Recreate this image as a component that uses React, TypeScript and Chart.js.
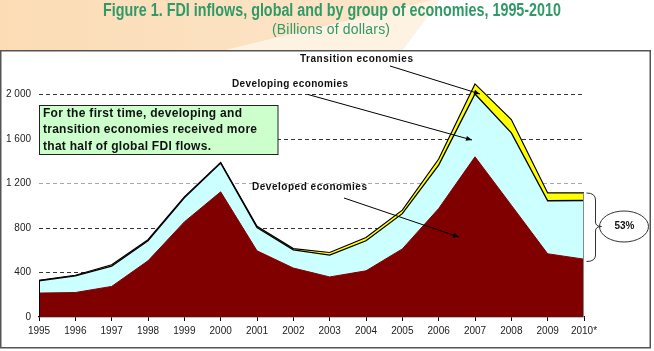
import React, { useEffect, useRef } from 'react';
import { Chart, registerables } from 'chart.js';

Chart.register(...registerables);

const years = ['1995', '1996', '1997', '1998', '1999', '2000', '2001', '2002', '2003', '2004', '2005', '2006', '2007', '2008', '2009', '2010*'];
const developed = [215, 220, 275, 505, 855, 1125, 595, 440, 360, 415, 612, 975, 1440, 1005, 568, 520];
const developing = [111, 149, 183, 180, 216, 258, 210, 164, 196, 270, 317, 390, 565, 650, 477, 527];
const transition = [4, 6, 12, 10, 9, 7, 10, 11, 24, 30, 31, 55, 90, 120, 70, 68];
const yTickValues = [0, 400, 800, 1200, 1600, 2000];

const titleText = 'Figure 1. FDI inflows, global and by group of economies, 1995-2010';
const subtitleText = '(Billions of dollars)';
const noteLines = ['For the first time, developing and', 'transition economies received more', 'that half of global FDI flows.'];
const seriesNames = ['Developed economies', 'Developing economies', 'Transition economies'];
const shareText = '53%';

const FONT = '"Liberation Sans", Arial, sans-serif';
const GREEN = '#2f9a68';

function fitText(ctx: CanvasRenderingContext2D, text: string, x: number, y: number, width: number, font: string, color: string, align: CanvasTextAlign = 'left') {
  ctx.save();
  ctx.font = font;
  (ctx as any).letterSpacing = '0px';
  const w = ctx.measureText(text).width;
  ctx.fillStyle = color;
  ctx.textBaseline = 'middle';
  let startX = x;
  if (align === 'center') startX = x - width / 2;
  ctx.textAlign = 'left';
  if (w <= width) {
    const ls = (width - w) / Math.max(1, text.length - 1);
    (ctx as any).letterSpacing = ls + 'px';
    ctx.fillText(text, startX, y);
  } else {
    ctx.fillText(text, startX, y, width);
  }
  ctx.restore();
}

function arrow(ctx: CanvasRenderingContext2D, x1: number, y1: number, x2: number, y2: number) {
  ctx.save();
  ctx.strokeStyle = '#000';
  ctx.fillStyle = '#000';
  ctx.lineWidth = 1;
  ctx.beginPath();
  ctx.moveTo(x1, y1);
  ctx.lineTo(x2, y2);
  ctx.stroke();
  const a = Math.atan2(y2 - y1, x2 - x1);
  const L = 6, W = 2.5;
  ctx.beginPath();
  ctx.moveTo(x2, y2);
  ctx.lineTo(x2 - L * Math.cos(a) + W * Math.sin(a), y2 - L * Math.sin(a) - W * Math.cos(a));
  ctx.lineTo(x2 - L * Math.cos(a) - W * Math.sin(a), y2 - L * Math.sin(a) + W * Math.cos(a));
  ctx.closePath();
  ctx.fill();
  ctx.restore();
}

const decorPlugin = {
  id: 'decor',
  beforeDraw(chart: any) {
    const ctx: CanvasRenderingContext2D = chart.ctx;
    const W = chart.width, H = chart.height;
    ctx.save();
    ctx.fillStyle = '#ffffff';
    ctx.fillRect(0, 0, W, H);
    const g = ctx.createLinearGradient(0, 0, 430, 0);
    g.addColorStop(0, '#fbdcb5');
    g.addColorStop(1, '#fde6cb');
    ctx.fillStyle = g;
    ctx.beginPath();
    ctx.moveTo(0, 0); ctx.lineTo(434, 0); ctx.lineTo(222, 51); ctx.lineTo(0, 51); ctx.closePath();
    ctx.fill();
    ctx.fillStyle = '#fef2e3';
    ctx.beginPath();
    ctx.moveTo(434, 0); ctx.lineTo(440, 0); ctx.lineTo(402, 51); ctx.lineTo(222, 51); ctx.closePath();
    ctx.fill();
    ctx.fillStyle = '#ffffff';
    ctx.fillRect(1, 51, 649, 297);
    ctx.strokeStyle = '#555';
    ctx.lineWidth = 1.5;
    ctx.strokeRect(0.75, 50.75, 649.5, 297);
    ctx.restore();
    fitText(ctx, titleText, 332, 11.5, 458, 'bold 18px ' + FONT, GREEN, 'center');
    fitText(ctx, subtitleText, 331, 30.5, 118, '14px ' + FONT, GREEN, 'center');
  },
  afterDatasetsDraw(chart: any) {
    const ctx: CanvasRenderingContext2D = chart.ctx;
    const xs = chart.scales.x, ys = chart.scales.y;
    const n = years.length - 1;
    const total0 = developed[0] + developing[0] + transition[0];
    const totalN = developed[n] + developing[n] + transition[n];
    ctx.save();
    ctx.lineWidth = 1;
    ctx.strokeStyle = '#000';
    ctx.beginPath();
    ctx.moveTo(xs.getPixelForValue(0) + 0.5, ys.getPixelForValue(total0));
    ctx.lineTo(xs.getPixelForValue(0) + 0.5, ys.getPixelForValue(0));
    ctx.stroke();
    ctx.strokeStyle = '#888';
    ctx.beginPath();
    ctx.moveTo(xs.getPixelForValue(n) - 0.5, ys.getPixelForValue(totalN));
    ctx.lineTo(xs.getPixelForValue(n) - 0.5, ys.getPixelForValue(0));
    ctx.stroke();
    ctx.restore();
  },
  afterDraw(chart: any) {
    const ctx: CanvasRenderingContext2D = chart.ctx;
    ctx.save();
    ctx.fillStyle = '#ccffcc';
    ctx.strokeStyle = '#222';
    ctx.lineWidth = 1;
    ctx.fillRect(39.5, 105.5, 238.5, 49);
    ctx.strokeRect(39.5, 105.5, 238.5, 49);
    ctx.restore();
    const noteWidths = [199, 214, 168];
    const noteY = [113.5, 130, 146.5];
    noteLines.forEach((t, i) => fitText(ctx, t, 43, noteY[i], noteWidths[i], 'bold 12px ' + FONT, '#111'));

    fitText(ctx, seriesNames[2], 300, 59.5, 113, 'bold 10px ' + FONT, '#111');
    fitText(ctx, seriesNames[1], 232, 84.5, 116, 'bold 10px ' + FONT, '#111');
    fitText(ctx, seriesNames[0], 252, 187, 115, 'bold 10px ' + FONT, '#111');
    arrow(ctx, 390, 66, 480, 94);
    arrow(ctx, 308, 94.5, 472, 140);
    arrow(ctx, 344, 198, 459, 237);

    ctx.save();
    ctx.strokeStyle = '#333';
    ctx.lineWidth = 1;
    ctx.beginPath();
    ctx.moveTo(586.5, 193);
    ctx.quadraticCurveTo(595.5, 193, 595.5, 200);
    ctx.lineTo(595.5, 222);
    ctx.quadraticCurveTo(595.5, 226.5, 601.5, 226.5);
    ctx.quadraticCurveTo(595.5, 226.5, 595.5, 231);
    ctx.lineTo(595.5, 255);
    ctx.quadraticCurveTo(595.5, 261.5, 586.5, 261.5);
    ctx.stroke();
    ctx.beginPath();
    ctx.ellipse(624, 226.5, 24.5, 15.5, 0, 0, Math.PI * 2);
    ctx.stroke();
    ctx.restore();
    fitText(ctx, shareText, 624.5, 225.5, 20, 'bold 11px ' + FONT, '#111', 'center');
  },
};

export default function App() {
  const ref = useRef<HTMLCanvasElement | null>(null);
  useEffect(() => {
    document.body.style.margin = '0';
    const canvas = ref.current;
    if (!canvas) return;
    const chart = new Chart(canvas, {
      type: 'line',
      data: {
        labels: years,
        datasets: [
          { label: seriesNames[0], data: developed, backgroundColor: '#800000', borderColor: '#800000', borderWidth: 1, fill: 'origin', pointRadius: 0, tension: 0 },
          { label: seriesNames[1], data: developing, backgroundColor: '#ccffff', borderColor: '#000000', borderWidth: 1.3, fill: '-1', pointRadius: 0, tension: 0 },
          { label: seriesNames[2], data: transition, backgroundColor: '#ffff00', borderColor: '#000000', borderWidth: 1.2, fill: '-1', pointRadius: 0, tension: 0 },
        ],
      },
      options: {
        animation: false,
        responsive: false,
        devicePixelRatio: 1,
        layout: { padding: { left: 0, right: 70, top: 50, bottom: 0 } },
        plugins: { legend: { display: false }, tooltip: { enabled: false }, title: { display: false } },
        scales: {
          x: {
            type: 'category',
            offset: false,
            grid: { display: true, drawOnChartArea: false, drawTicks: true, tickLength: 4, color: '#000' },
            border: { display: true, color: '#000', width: 1.3 },
            ticks: { color: '#222', font: { size: 10, family: FONT }, padding: 4, maxRotation: 0, autoSkip: false },
            afterFit: (s: any) => { s.height = 34; },
          },
          y: {
            stacked: true,
            min: 0,
            max: 2400,
            afterBuildTicks: (s: any) => { s.ticks = [...yTickValues, 2400].map((v) => ({ value: v })); },
            grid: {
              drawTicks: false,
              lineWidth: 1,
              color: (c: any) => {
                const v = c.tick ? c.tick.value : -1;
                if (v === 0 || v === 2400) return 'rgba(0,0,0,0)';
                if (v === 1200) return '#a8a8a8';
                return '#333';
              },
            },
            border: { display: false, dash: [4, 3] },
            ticks: {
              color: '#222',
              font: { size: 10, family: FONT },
              padding: 8,
              callback: (v: any) => {
                const n = Number(v);
                if (!yTickValues.includes(n)) return '';
                if (n >= 1000) return Math.floor(n / 1000) + ' ' + String(n % 1000).padStart(3, '0');
                return String(n);
              },
            },
            afterFit: (s: any) => { s.width = 39; },
          },
        },
      },
      plugins: [decorPlugin],
    });
    return () => chart.destroy();
  }, []);
  return <canvas ref={ref} width={654} height={351} style={{ display: 'block' }} />;
}
